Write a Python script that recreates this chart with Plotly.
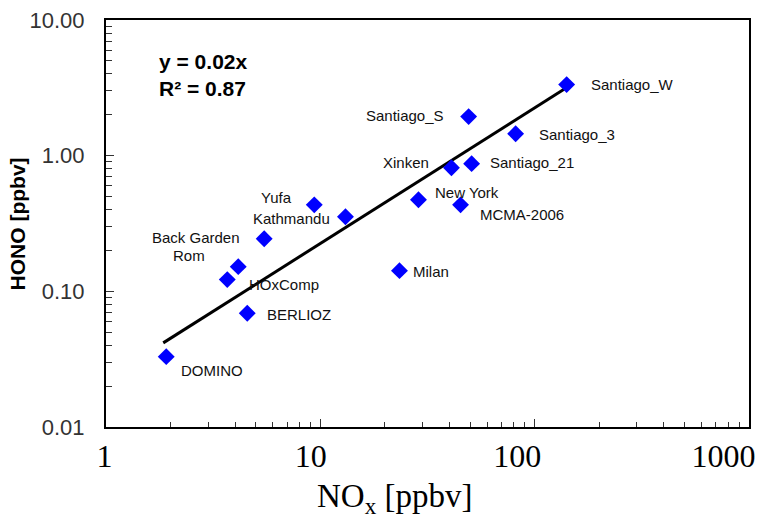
import math
import plotly.graph_objects as go

# ─── DATA ─────────────────────────────────────────────
sites = ["DOMINO", "BERLIOZ", "HOxComp", "Rom", "Back Garden", "Yufa", "Kathmandu",
         "Milan", "New York", "Xinken", "MCMA-2006", "Santiago_21", "Santiago_S",
         "Santiago_3", "Santiago_W"]
nox = [1.91, 4.56, 3.68, 4.14, 5.47, 9.37, 13.1, 23.4, 28.7, 40.9, 45.1, 50.8, 49.2, 81.5, 141]
hono = [0.033, 0.069, 0.122, 0.152, 0.244, 0.434, 0.355, 0.142, 0.473, 0.815, 0.434,
        0.873, 1.94, 1.45, 3.34]

# linear fit y = 0.02x (as drawn)
fit_x = [1.85, 140]
fit_y = [0.0417, 3.15]

x_ticks = [1, 10, 100, 1000]
x_ticktext = ["1", "10", "100", "1000"]
y_ticks = [0.01, 0.1, 1, 10]
y_ticktext = ["0.01", "0.10", "1.00", "10.00"]

# label placement (px offset from marker, anchor side)
label_dx = [13, 18, 20, -31, -22, -20, -13, 12, 15, -20, 17, 16, -23, 21, 22]
label_dy = [14, 1, 5, -11, -1, -7, 2, 1, -7, -5, 10, -1, -1, 1, 0]

BLUE = "#0000FF"
INK = "#111111"

x_minor = [m * 10 ** d for d in range(0, 3) for m in range(2, 10)]
y_minor = [m * 10 ** d for d in range(-2, 1) for m in range(2, 10)]

fig = go.Figure()

fig.add_trace(go.Scatter(
    x=fit_x, y=fit_y, mode="lines",
    line=dict(color="black", width=3),
    hoverinfo="skip", showlegend=False,
))

fig.add_trace(go.Scatter(
    x=nox, y=hono, mode="markers",
    marker=dict(symbol="diamond", size=13, color=BLUE, line=dict(width=0)),
    text=sites,
    hovertemplate="<b>%{text}</b><br>NOx: %{x}<br>HONO: %{y}<extra></extra>",
    showlegend=False,
))

annotations = []
for s, xv, yv, dx, dy in zip(sites, nox, hono, label_dx, label_dy):
    annotations.append(dict(
        x=math.log10(xv), y=math.log10(yv), xref="x", yref="y",
        text=s, showarrow=False,
        xanchor="left" if dx > 0 else "right",
        yanchor="middle",
        xshift=dx, yshift=-dy,
        font=dict(family="Liberation Sans", size=15, color=INK),
    ))

annotations.append(dict(
    x=0.08, y=0.865, xref="paper", yref="paper",
    text="<b>y = 0.02x</b><br><b>R² = 0.87</b>",
    showarrow=False, xanchor="left", yanchor="middle", align="left",
    font=dict(family="Liberation Sans", size=21, color="black"),
))

# axis titles
annotations.append(dict(
    x=0.448, y=-0.175, xref="paper", yref="paper",
    text="NO<sub>x</sub> [ppbv]", showarrow=False,
    xanchor="center", yanchor="middle",
    font=dict(family="Liberation Serif", size=33, color="black"),
))
annotations.append(dict(
    x=-0.137, y=0.5, xref="paper", yref="paper",
    text="<b>HONO [ppbv]</b>", showarrow=False, textangle=-90,
    xanchor="center", yanchor="middle",
    font=dict(family="Liberation Sans", size=21, color="black"),
))

fig.update_layout(
    width=761, height=520,
    paper_bgcolor="white", plot_bgcolor="white",
    margin=dict(l=106, r=12, t=20, b=93),
    annotations=annotations,
    xaxis=dict(
        type="log", range=[0, 3], automargin=False,
        tickvals=x_ticks, ticktext=x_ticktext,
        tickfont=dict(family="Liberation Serif", size=32, color="black"),
        ticks="inside", ticklen=8, tickwidth=1, tickcolor="#333",
        ticklabelposition="outside left", ticklabelshift=8,
        minor=dict(tickvals=x_minor, ticks="inside", ticklen=5,
                   tickcolor="#333", showgrid=False),
        showgrid=False, zeroline=False,
        showline=True, linecolor="black", linewidth=2, mirror=True,
    ),
    yaxis=dict(
        type="log", range=[-2, 1], automargin=False,
        tickvals=y_ticks, ticktext=y_ticktext,
        tickfont=dict(family="Liberation Sans", size=22, color="#333"),
        ticks="inside", ticklen=8, tickwidth=1, tickcolor="#333",
        ticklabelstandoff=15,
        minor=dict(tickvals=y_minor, ticks="inside", ticklen=6,
                   tickcolor="#333", showgrid=False),
        showgrid=False, zeroline=False,
        showline=True, linecolor="black", linewidth=2, mirror=True,
    ),
)

# page body has a default 8px margin; drop it so the figure sits at the window origin
fig.write_html("out.html", config={"displayModeBar": False},
               post_script="document.body.style.margin='0';")
